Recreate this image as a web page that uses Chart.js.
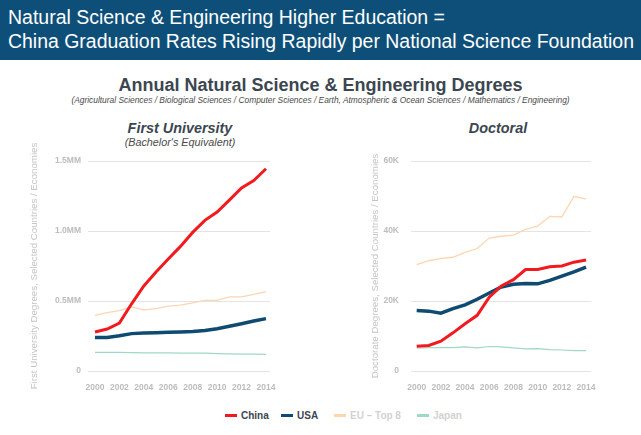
<!DOCTYPE html>
<html><head><meta charset="utf-8">
<script src="https://cdn.jsdelivr.net/npm/chart.js@4.4.1/dist/chart.umd.min.js"></script>
<style>
html,body{margin:0;padding:0;background:#fff;width:641px;height:435px;overflow:hidden;font-family:"Liberation Sans",Arial,sans-serif;}
#hdr{position:absolute;left:0;top:0;width:641px;height:60px;background:#0e4f79;color:#fff;font-size:20px;line-height:23px;}
#hdr div{position:absolute;left:8px;white-space:nowrap;transform-origin:0 0;}
.abs{position:absolute;white-space:nowrap;}
#main{left:0;width:641px;top:75px;text-align:center;font-weight:bold;font-size:18px;color:#3c4650;}
#sub{left:0;width:641px;top:95px;text-align:center;font-style:italic;font-size:8.4px;color:#4a4a4a;}
.pt{font-weight:bold;font-style:italic;font-size:14.4px;color:#3c4650;text-align:center;}
.ps{font-style:italic;font-size:10.8px;color:#4a4a4a;text-align:center;}
canvas{position:absolute;}
.lg{position:absolute;top:409px;font-weight:bold;font-size:10px;line-height:13px;white-space:nowrap;}
.lg i{display:inline-block;width:12px;height:3px;vertical-align:middle;margin-right:4px;position:relative;top:-1px;}
</style></head>
<body>
<div id="hdr"><div id="h1" style="top:6px">Natural Science &amp; Engineering Higher Education =</div><div id="h2" style="top:30px">China Graduation Rates Rising Rapidly per National Science Foundation</div></div>
<div id="main" class="abs">Annual Natural Science &amp; Engineering Degrees</div>
<div id="sub" class="abs">(Agricultural Sciences / Biological Sciences / Computer Sciences / Earth, Atmospheric &amp; Ocean Sciences / Mathematics / Engineering)</div>
<div class="abs pt" style="left:80px;width:200px;top:120px">First University</div>
<div class="abs ps" style="left:80px;width:200px;top:136px">(Bachelor's Equivalent)</div>
<div class="abs pt" style="left:398px;width:200px;top:120px">Doctoral</div>
<canvas id="c1" width="290" height="250" style="left:0;top:140px;width:290px;height:250px"></canvas>
<canvas id="c2" width="311" height="250" style="left:330px;top:140px;width:311px;height:250px"></canvas>
<div id="legend"></div>
<script>
const years = [2000,2001,2002,2003,2004,2005,2006,2007,2008,2009,2010,2011,2012,2013,2014];
const xTickYears = [2000,2002,2004,2006,2008,2010,2012,2014];
const seriesNames = ['China','USA','EU \u2013 Top 8','Japan'];
const seriesColors = ['#f01a1f','#0f4a70','#fdd6b0','#9fd9c1'];
const seriesWidths = [3,3.5,1.3,1.2];
const legendTextColors = ['#3c4650','#3c4650','#d2d2d2','#d2d2d2'];

// First University degrees, millions
const firstChina = [0.279,0.300,0.343,0.480,0.607,0.707,0.800,0.890,0.990,1.076,1.136,1.220,1.307,1.360,1.445];
const firstUSA   = [0.240,0.240,0.252,0.267,0.271,0.274,0.276,0.279,0.283,0.290,0.302,0.319,0.338,0.357,0.374];
const firstEU    = [0.398,0.417,0.431,0.457,0.436,0.445,0.464,0.471,0.486,0.505,0.505,0.529,0.529,0.548,0.567];
const firstJapan = [0.133,0.134,0.133,0.131,0.130,0.130,0.129,0.128,0.128,0.127,0.124,0.122,0.121,0.120,0.119];
const firstYTicks = [0,0.5,1.0,1.5];
const firstYTickLabels = ['0','0.5MM','1.0MM','1.5MM'];

// Doctoral degrees, thousands
const docChina = [7.1,7.3,8.5,10.9,13.5,15.9,21.1,24.3,26.1,29.0,29.0,29.8,30.0,31.1,31.7];
const docUSA   = [17.3,17.1,16.5,17.8,18.9,20.5,22.3,24.0,24.8,25.0,24.9,25.9,27.1,28.3,29.7];
const docEU    = [30.4,31.5,32.2,32.5,33.9,35.0,38.0,38.5,38.8,40.5,41.4,44.2,44.0,49.9,49.1];
const docJapan = [6.5,6.7,6.7,6.7,6.9,6.6,7.0,6.9,6.6,6.3,6.4,6.1,6.0,5.8,5.8];
const docYTicks = [0,20,40,60];
const docYTickLabels = ['0','20K','40K','60K'];

// fit header lines to the reference widths
[['h1',437],['h2',626]].forEach(([id,w])=>{
  const el=document.getElementById(id);
  el.style.transform='scaleX('+(w/el.getBoundingClientRect().width)+')';
});

const tickFont = {family:'"Liberation Sans", Arial, sans-serif', size:8.5, weight:'bold'};
const tickColor = '#bcbcbc';

function makeChart(id, data, yTicks, yTickLabels, yTitle, cfg){
  const datasets = data.map((vals,i)=>({
    label: seriesNames[i],
    data: vals.map((v,j)=>({x:years[j], y:v})),
    borderColor: seriesColors[i],
    backgroundColor: seriesColors[i],
    borderWidth: seriesWidths[i],
    pointRadius: 0, tension: 0, fill:false
  }));
  return new Chart(document.getElementById(id), {
    type:'line',
    data:{datasets},
    options:{
      responsive:false, animation:false,
      layout:{padding:{left:cfg.padL, right:cfg.padR, top:cfg.padT, bottom:0}},
      plugins:{legend:{display:false}, tooltip:{enabled:false}},
      scales:{
        x:{type:'linear', min:cfg.xMin, max:cfg.xMax,
           grid:{display:false}, border:{display:false},
           afterBuildTicks:s=>{s.ticks = xTickYears.map(v=>({value:v}));},
           afterFit:s=>{s.height = cfg.xH;},
           ticks:{font:tickFont, color:tickColor, padding:4, maxRotation:0, autoSkip:false,
                  callback:v=>String(v)}},
        y:{min:yTicks[0], max:yTicks[yTicks.length-1],
           grid:{color:'#e4e4e4', drawTicks:false, lineWidth:1}, border:{display:false},
           afterBuildTicks:s=>{s.ticks = yTicks.map(v=>({value:v}));},
           afterFit:s=>{s.width = cfg.yW;},
           ticks:{font:tickFont, color:tickColor, padding:cfg.tickPad,
                  callback:v=>yTickLabels[yTicks.indexOf(v)]},
           title:{display:true, text:yTitle, color:'#c4c4c4', padding:{top:4,bottom:0},
                  font:{family:'"Liberation Sans", Arial, sans-serif', size:9.7}}}
      }
    }
  });
}

makeChart('c1',[firstChina,firstUSA,firstEU,firstJapan], firstYTicks, firstYTickLabels,
  'First University Degrees, Selected Countries / Economies',
  {padL:25, padR:20, padT:21, xH:19, yW:63, tickPad:7, xMin:1999.43, xMax:2014.33});
makeChart('c2',[docChina,docUSA,docEU,docJapan], docYTicks, docYTickLabels,
  'Doctorate Degrees, Selected Countries / Economies',
  {padL:36, padR:50, padT:21, xH:19, yW:45, tickPad:12, xMin:1999.53, xMax:2014.41});

const legendX = [225,281,334,417];
const lg = document.getElementById('legend');
seriesNames.forEach((n,i)=>{
  const d = document.createElement('div');
  d.className='lg';
  d.style.left = legendX[i]+'px';
  d.style.color = legendTextColors[i];
  d.innerHTML = '<i style="background:'+seriesColors[i]+'"></i>'+n;
  lg.appendChild(d);
});
</script>
</body></html>
